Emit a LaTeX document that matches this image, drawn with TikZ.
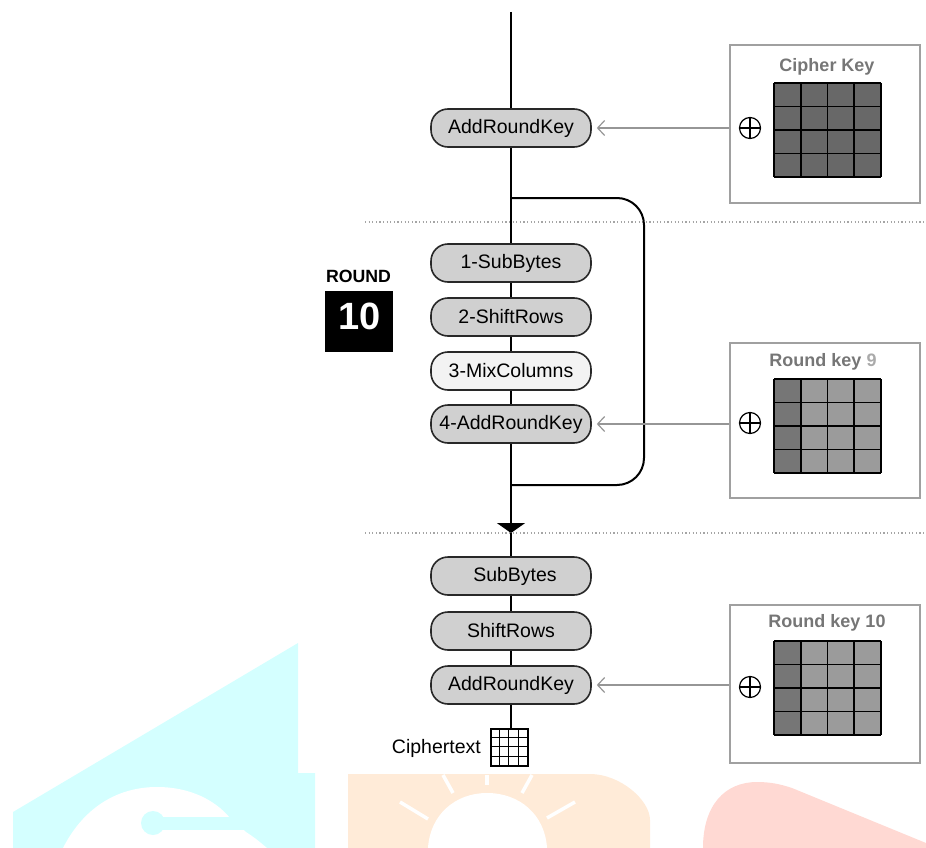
\documentclass[tikz,border=0pt]{standalone}
\usepackage{fontspec}
\setmainfont{Liberation Sans}
\usetikzlibrary{arrows.meta,calc}

\definecolor{pillgray}{RGB}{208,208,208}
\definecolor{pilllight}{RGB}{243,243,243}
\definecolor{pilledge}{RGB}{40,40,40}
\definecolor{boxedge}{RGB}{160,160,160}
\definecolor{titlegray}{RGB}{118,118,118}
\definecolor{numgray}{RGB}{170,170,170}
\definecolor{cellcipher}{RGB}{104,104,104}
\definecolor{cellfirst}{RGB}{118,118,118}
\definecolor{cellrest}{RGB}{155,155,155}
\definecolor{arrowgray}{RGB}{150,150,150}
\definecolor{sepgray}{RGB}{165,165,165}
\definecolor{wmcyan}{RGB}{212,255,255}
\definecolor{wmorange}{RGB}{255,235,216}
\definecolor{wmpink}{RGB}{255,217,211}

% 4x4 key matrix: top-left x, top-left y, first-column colour, other colour
\newcommand\keygrid[4]{%
  \foreach \c in {0,1,2,3}{%
    \ifnum\c=0 \def\cc{#3}\else\def\cc{#4}\fi
    \fill[\cc] (#1+\c*26.75,#2) rectangle ++(26.75,94);
  }
  \foreach \i in {0,...,4}{%
    \draw[line width=1.7pt] (#1+\i*26.75,#2) -- ++(0,94);
    \draw[line width=1.7pt] (#1,#2+\i*23.5) -- ++(107,0);
  }
}

\begin{document}
\begin{tikzpicture}[x=1pt,y=-1pt,
  pill/.style={draw=pilledge, line width=1.6pt, fill=pillgray,
    rounded corners=17pt, minimum width=160pt, minimum height=38pt,
    inner sep=0pt, font=\fontsize{19.5}{22}\selectfont},
  mainline/.style={line width=2pt, black},
  keyarrow/.style={draw=arrowgray, line width=1.2pt,
    -{Straight Barb[length=7pt,width=15pt]}, shorten >=5pt},
  keybox/.style={draw=boxedge, line width=1.4pt, minimum width=190pt,
    inner sep=0pt},
  keytitle/.style={font=\bfseries\fontsize{18}{20}\selectfont, text=titlegray},
  sepline/.style={draw=sepgray, line width=1.2pt, dash pattern=on 1.2pt off 2.4pt},
  xorsym/.style={circle, draw=black, line width=1.2pt, minimum size=21pt,
    inner sep=0pt,
    path picture={\draw[line width=1.1pt]
      (path picture bounding box.north) -- (path picture bounding box.south)
      (path picture bounding box.west) -- (path picture bounding box.east);}}
]
\useasboundingbox (0,0) rectangle (926,848);

% ---- logo marks along the bottom edge ----
\fill[wmcyan] (13,848) -- (13,812) -- (298,643) -- (298,773) -- (315,773)
  -- (315,848) -- cycle;
\fill[white] (63,848) .. controls (85,805) and (120,787) .. (157,787)
  .. controls (190,787) and (215,800) .. (230,818) -- (246,832)
  .. controls (255,838) .. (267,848) -- cycle;
\fill[wmcyan] (153,823) circle[radius=12];
\fill[wmcyan] (153,817) rectangle (250,830);

\fill[wmorange] (348,848) -- (348,774) -- (590,774)
  .. controls (620,774) and (650,800) .. (650,820) -- (650,848) -- cycle;
\fill[white] (428,848) .. controls (430,815) and (455,793) .. (487,793)
  .. controls (520,793) and (545,815) .. (547,848) -- cycle;
\begin{scope}[white, line width=3.5pt]
  \draw (400,802) -- (428,819);
  \draw (443,775) -- (453,793);
  \draw (487,775) -- (487,785);
  \draw (532,775) -- (522,793);
  \draw (575,802) -- (547,818);
\end{scope}

\fill[wmpink] (703,848) .. controls (703,805) and (725,782) .. (757,782)
  .. controls (770,782) and (780,784) .. (792,788) -- (926,843)
  -- (926,848) -- cycle;

% ---- round separators ----
\draw[sepline] (365,222) -- (926,222);
\draw[sepline] (365,533) -- (926,533);

% ---- round label ----
\node[font=\bfseries\fontsize{17.7}{20}\selectfont, inner sep=0pt] (rlabel) at (358.5,276.5) {ROUND};
\node[fill=black, minimum width=68pt, minimum height=61pt, inner sep=0pt] (rbox) at (359,321.5) {};
\node[text=white, font=\bfseries\fontsize{38}{40}\selectfont, inner sep=0pt] (rnum) at (360,316) {10};

% ---- processing steps ----
\coordinate (start) at (511,12);
\node[pill] (ark0) at (511,128) {AddRoundKey};
\node[pill] (sb1) at (511,263) {1-SubBytes};
\node[pill] (sr1) at (511,317) {2-ShiftRows};
\node[pill, fill=pilllight] (mc1) at (511,371) {3-MixColumns};
\node[pill] (ark1) at (511,424) {4-AddRoundKey};
\node[pill] (sb2) at (511,576) {\hspace{8pt}SubBytes};
\node[pill] (sr2) at (511,631) {ShiftRows};
\node[pill] (ark2) at (511,685) {AddRoundKey};

% ciphertext block
\node[draw, line width=1.3pt, minimum width=37pt, minimum height=37pt, inner sep=0pt] (ctg) at (509.5,747.5) {};
\foreach \i in {1,2,3}{%
  \draw[line width=1.2pt] ($(ctg.north west)+(\i*9.25,0)$) -- ($(ctg.south west)+(\i*9.25,0)$);
  \draw[line width=1.2pt] ($(ctg.north west)+(0,\i*9.25)$) -- ($(ctg.north east)+(0,\i*9.25)$);
}
\node[anchor=east, font=\fontsize{19.5}{22}\selectfont, inner sep=0pt] (ctl) at (481,748) {Ciphertext};

% main data path
\draw[mainline] (start) -- (ark0.north);
\draw[mainline] (ark0.south) -- (sb1.north);
\draw[mainline] (sb1.south) -- (sr1.north);
\draw[mainline] (sr1.south) -- (mc1.north);
\draw[mainline] (mc1.south) -- (ark1.north);
\coordinate (tip) at (511,533);
\draw[mainline, -{Triangle[length=10pt,width=28pt]}] (ark1.south) -- (tip);
\draw[mainline] (tip) -- (sb2.north);
\draw[mainline] (sb2.south) -- (sr2.north);
\draw[mainline] (sr2.south) -- (ark2.north);
\draw[mainline] (ark2.south) -- (ark2.south |- ctg.north);

% repeat loop
\coordinate (lt) at (511,198);
\coordinate (lb) at (511,485);
\coordinate (lr) at (644,340);
\draw[mainline, rounded corners=27pt] (lt) -- (lt -| lr) -- (lb -| lr) -- (lb);

% ---- key boxes ----
\node[keybox, minimum height=158pt] (ckbox) at (825,124) {};
\node[keytitle] (ckt) at (827,67) {Cipher Key};
\keygrid{774}{83}{cellcipher}{cellcipher}
\node[xorsym] (x0) at (750,128) {};
\draw[keyarrow] (ckbox.west |- ark0.east) -- (ark0.east);

\node[keybox, minimum height=155pt] (rk9box) at (825,420.5) {};
\node[keytitle] (rk9t) at (823,362) {Round key \textcolor{numgray}{9}};
\keygrid{774}{379}{cellfirst}{cellrest}
\node[xorsym] (x1) at (750,423) {};
\draw[keyarrow] (rk9box.west |- ark1.east) -- (ark1.east);

\node[keybox, minimum height=158pt] (rk10box) at (825,684) {};
\node[keytitle] (rk10t) at (827,623) {Round key 10};
\keygrid{774}{641}{cellfirst}{cellrest}
\node[xorsym] (x2) at (750,687) {};
\draw[keyarrow] (rk10box.west |- ark2.east) -- (ark2.east);

\end{tikzpicture}
\end{document}
